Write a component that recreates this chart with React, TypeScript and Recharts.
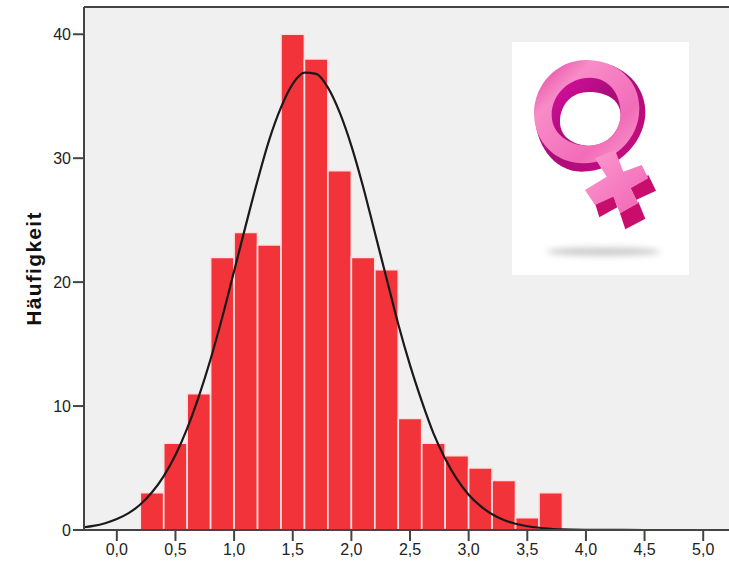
import React from "react";
import { ComposedChart, Bar, Line, XAxis, YAxis, CartesianGrid, ReferenceLine } from "recharts";

const binCentres = [0.3, 0.5, 0.7, 0.9, 1.1, 1.3, 1.5, 1.7, 1.9, 2.1, 2.3, 2.5, 2.7, 2.9, 3.1, 3.3, 3.5, 3.7];
const binCounts = [3, 7, 11, 22, 24, 23, 40, 38, 29, 22, 21, 9, 7, 6, 5, 4, 1, 3];
const curveX = [-0.28, -0.2, -0.1, 0, 0.1, 0.2, 0.3, 0.4, 0.5, 0.6, 0.7, 0.8, 0.9, 1.0, 1.1, 1.2, 1.3, 1.4, 1.5, 1.6, 1.7, 1.8, 1.9, 2.0, 2.1, 2.2, 2.3, 2.4, 2.5, 2.6, 2.7, 2.8, 2.9, 3.0, 3.1, 3.2, 3.3, 3.4, 3.5, 3.6, 3.7, 3.8, 4.0, 4.5, 5.0, 5.22];
const curveY = [0.22, 0.33, 0.55, 0.88, 1.36, 2.06, 3.04, 4.35, 6.05, 8.2, 10.8, 13.8, 17.2, 20.9, 24.6, 28.2, 31.5, 34.1, 36.0, 36.9, 36.8, 35.7, 33.7, 31.0, 27.7, 24.0, 20.3, 16.6, 13.3, 10.4, 7.8, 5.75, 4.1, 2.85, 1.94, 1.27, 0.81, 0.5, 0.3, 0.18, 0.1, 0.05, 0.02, 0, 0, 0];
const xTicks = [0, 0.5, 1, 1.5, 2, 2.5, 3, 3.5, 4, 4.5, 5];
const yTicks = [0, 10, 20, 30, 40];

const barData = binCentres.map((x, i) => ({ x, count: binCounts[i] }));
const curveData = curveX.map((x, i) => ({ x, curve: curveY[i] }));

const FONT = "'Liberation Sans', Arial, sans-serif";
const AXIS = "#444444";

function VenusPicture() {
  return (
    <svg width={729} height={566} style={{ position: "absolute", left: 0, top: 0, pointerEvents: "none" }}>
      <defs>
        <linearGradient id="ringFront" x1="0" y1="0" x2="1" y2="1">
          <stop offset="0" stopColor="#e23a98" />
          <stop offset="0.28" stopColor="#f88cc8" />
          <stop offset="0.7" stopColor="#f26cb8" />
          <stop offset="1" stopColor="#f9a0d2" />
        </linearGradient>
        <linearGradient id="crossFront" x1="0" y1="0" x2="1" y2="1">
          <stop offset="0" stopColor="#fb9bd0" />
          <stop offset="1" stopColor="#f264b4" />
        </linearGradient>
        <linearGradient id="ringBack" x1="0" y1="0" x2="1" y2="1">
          <stop offset="0" stopColor="#f00cb0" />
          <stop offset="0.5" stopColor="#a8107a" />
          <stop offset="1" stopColor="#d0107f" />
        </linearGradient>
        <filter id="soft" x="-30%" y="-300%" width="160%" height="700%">
          <feGaussianBlur stdDeviation="9" />
        </filter>
        <filter id="slight" x="-10%" y="-10%" width="120%" height="120%">
          <feGaussianBlur stdDeviation="2" />
        </filter>
      </defs>
      <rect x={512} y={42} width={177} height={233} fill="#ffffff" />
      <g transform="translate(500,30) scale(0.3333)">
        <ellipse cx={310} cy={665} rx={170} ry={12} fill="#c8c8c8" filter="url(#soft)" />
        <g filter="url(#slight)">
          <path
            fillRule="evenodd"
            fill="url(#ringBack)"
            d="M272 95 C370 95 442 170 436 255 C430 345 345 425 245 425 C160 425 105 340 105 255 C105 170 175 95 272 95 Z M268 186 C205 186 180 235 180 275 C180 320 220 347 270 347 C325 347 362 300 362 255 C362 215 325 186 268 186 Z"
          />
          <path
            fillRule="evenodd"
            fill="url(#ringFront)"
            d="M258 90 C350 90 418 150 418 235 C418 330 340 400 250 400 C165 400 102 335 102 250 C102 165 170 90 258 90 Z M270 143 C205 143 155 195 155 255 C155 310 205 347 265 347 C325 347 362 300 362 250 C362 190 325 143 270 143 Z"
          />
          <polygon points="285,520 298,562 352,532 340,495" fill="#c80f6d" />
          <polygon points="360,550 376,598 436,566 415,515" fill="#c80f6d" />
          <polygon points="390,470 408,510 468,482 445,435" fill="#c80f6d" />
          <polygon
            points="285,385 320,440 255,480 285,525 340,500 360,550 415,520 392,475 445,445 425,405 370,425 345,360"
            fill="url(#crossFront)"
          />
        </g>
      </g>
    </svg>
  );
}

export default function App() {
  return (
    <div style={{ position: "absolute", left: 0, top: 0, width: 729, height: 566 }}>
      <ComposedChart
        width={729}
        height={566}
        data={barData}
        margin={{ top: 7, right: 0, bottom: 0, left: 0 }}
      >
        <CartesianGrid horizontal={false} vertical={false} fill="#f0f0f0" />
        <XAxis
          dataKey="x"
          type="number"
          scale="linear"
          domain={[-0.28, 5.22]}
          ticks={xTicks}
          height={36}
          allowDataOverflow
          interval={0}
          tickFormatter={(v: number) => v.toFixed(1).replace(".", ",")}
          tick={{ fontFamily: FONT, fontSize: 16, fill: "#222222" }}
          tickLine={{ stroke: AXIS, strokeWidth: 2 }}
          tickSize={11}
          tickMargin={3}
          axisLine={{ stroke: AXIS, strokeWidth: 2 }}
        />
        <XAxis
          xAxisId="curveAxis"
          dataKey="x"
          type="number"
          scale="linear"
          domain={[-0.28, 5.22]}
          allowDataOverflow
          hide
        />
        <YAxis
          type="number"
          domain={[0, 42.2]}
          ticks={yTicks}
          width={84}
          allowDataOverflow
          interval={0}
          tick={{ fontFamily: FONT, fontSize: 16, fill: "#222222" }}
          tickLine={{ stroke: AXIS, strokeWidth: 2 }}
          tickSize={11}
          tickMargin={2}
          axisLine={{ stroke: AXIS, strokeWidth: 2 }}
          label={{
            value: "Häufigkeit",
            angle: -90,
            position: "insideLeft",
            offset: 34,
            style: { fontFamily: FONT, fontSize: 21, fontWeight: 700, letterSpacing: 1.3, fill: "#111111", textAnchor: "middle" },
          }}
        />
        <ReferenceLine y={42.2} stroke={AXIS} strokeWidth={2} />
        <Bar dataKey="count" barSize={23.4} fill="#f23339" stroke="#fde0e1" strokeWidth={1.6} isAnimationActive={false} />
        <Line
          xAxisId="curveAxis"
          data={curveData}
          dataKey="curve"
          type="monotone"
          stroke="#1a1a1a"
          strokeWidth={2.2}
          dot={false}
          activeDot={false}
          isAnimationActive={false}
        />
      </ComposedChart>
      <VenusPicture />
    </div>
  );
}
